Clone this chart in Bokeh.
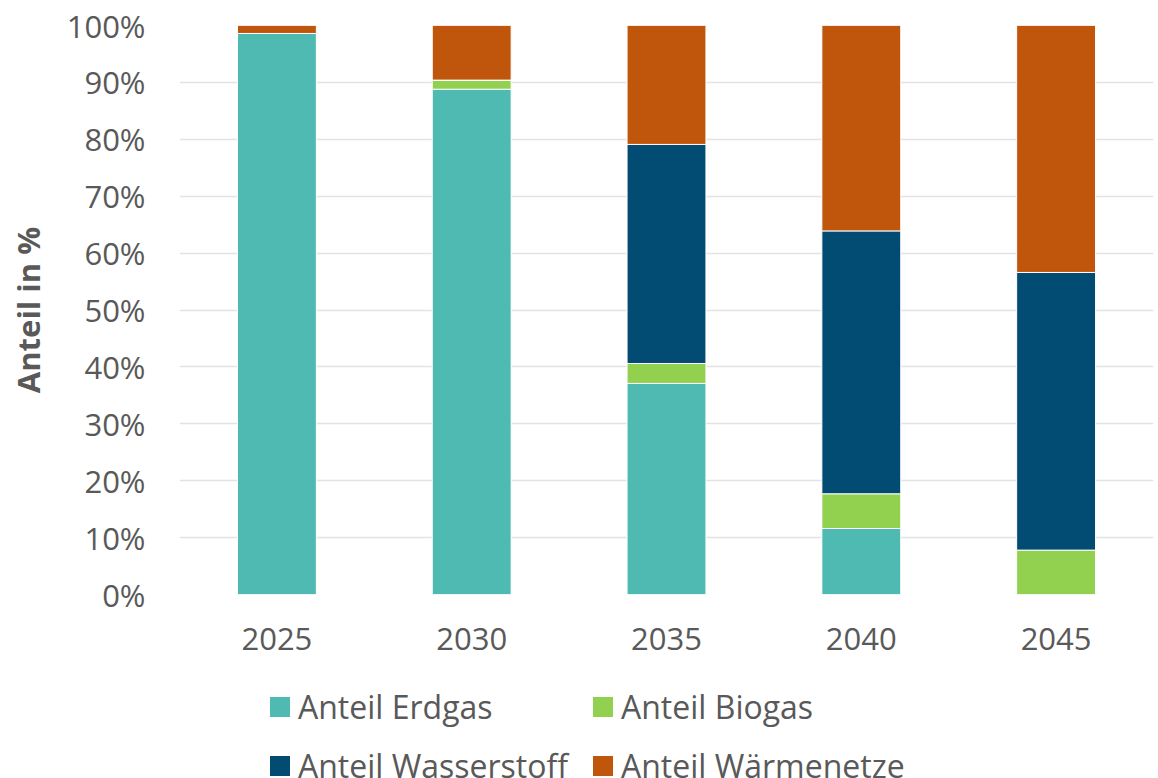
from bokeh.plotting import figure
from bokeh.models import Legend, LegendItem, PrintfTickFormatter, FactorRange
from bokeh.layouts import column
from bokeh.embed import file_html
from bokeh.resources import INLINE

years = ["2025", "2030", "2035", "2040", "2045"]
erdgas = [98.6, 88.8, 37.1, 11.6, 0.0]
biogas = [0.0, 1.6, 3.5, 6.1, 7.8]
wasserstoff = [0.0, 0.0, 38.5, 46.2, 48.8]
waermenetze = [1.4, 9.6, 20.9, 36.1, 43.4]

series = ["erdgas", "biogas", "wasserstoff", "waermenetze"]
labels = ["Anteil Erdgas", "Anteil Biogas", "Anteil Wasserstoff", "Anteil Wärmenetze"]
colors = ["#4FBAB1", "#92D050", "#024B73", "#C0550C"]

data = dict(years=years, erdgas=erdgas, biogas=biogas,
            wasserstoff=wasserstoff, waermenetze=waermenetze)

FONT = "Open Sans"
TXT = "#595959"

# main chart
p = figure(x_range=FactorRange(*years, range_padding=0), y_range=(0, 100),
           width=1158, height=680, output_backend="svg", toolbar_location=None,
           min_border_left=179, min_border_right=5, min_border_top=25,
           min_border_bottom=86)

p.vbar_stack(series, x="years", width=0.405, source=data, color=colors,
             line_color="white", line_width=1)

p.outline_line_color = None
p.xgrid.grid_line_color = None
p.ygrid.grid_line_color = "#E3E3E3"
p.ygrid.grid_line_width = 1.5

p.yaxis.ticker = list(range(0, 101, 10))
p.yaxis.formatter = PrintfTickFormatter(format="%d%%")
for ax in (p.xaxis[0], p.yaxis[0]):
    ax.axis_line_color = None
    ax.major_tick_line_color = None
    ax.minor_tick_line_color = None
    ax.major_tick_out = 0
    ax.major_tick_in = 0
    ax.minor_tick_out = 0
    ax.major_label_text_font = FONT
    ax.major_label_text_font_size = "31px"
    ax.major_label_text_color = TXT
p.yaxis.major_label_standoff = 34
p.xaxis.major_label_standoff = 33
p.yaxis.axis_label = "Anteil in %"
p.yaxis.axis_label_text_font = FONT
p.yaxis.axis_label_text_font_style = "bold"
p.yaxis.axis_label_text_font_size = "31px"
p.yaxis.axis_label_text_color = TXT
p.yaxis.axis_label_standoff = 15

# legend strip below the chart (its bars lie outside its visible range)
q = figure(x_range=FactorRange(*years, range_padding=0), y_range=(1000, 1001),
           width=1158, height=98, output_backend="svg", toolbar_location=None,
           min_border=0, x_axis_location=None, y_axis_location=None)
q.grid.grid_line_color = None
q.outline_line_color = None
rs = q.vbar_stack(series, x="years", width=0.405, source=data, color=colors,
                  line_color=None)

items = [LegendItem(label=l, renderers=[r]) for l, r in zip(labels, rs)]
legend = Legend(items=items, location=(88, -12), orientation="horizontal",
                ncols=2, padding=0, margin=0, spacing=9,
                border_line_color=None, background_fill_alpha=0,
                glyph_width=25, glyph_height=25, label_standoff=6,
                label_height=50, label_width=283,
                label_text_font=FONT, label_text_font_size="32px",
                label_text_color=TXT)
q.add_layout(legend, "center")

layout = column(p, q, spacing=0)
open("out.html", "w").write(file_html(layout, INLINE))
